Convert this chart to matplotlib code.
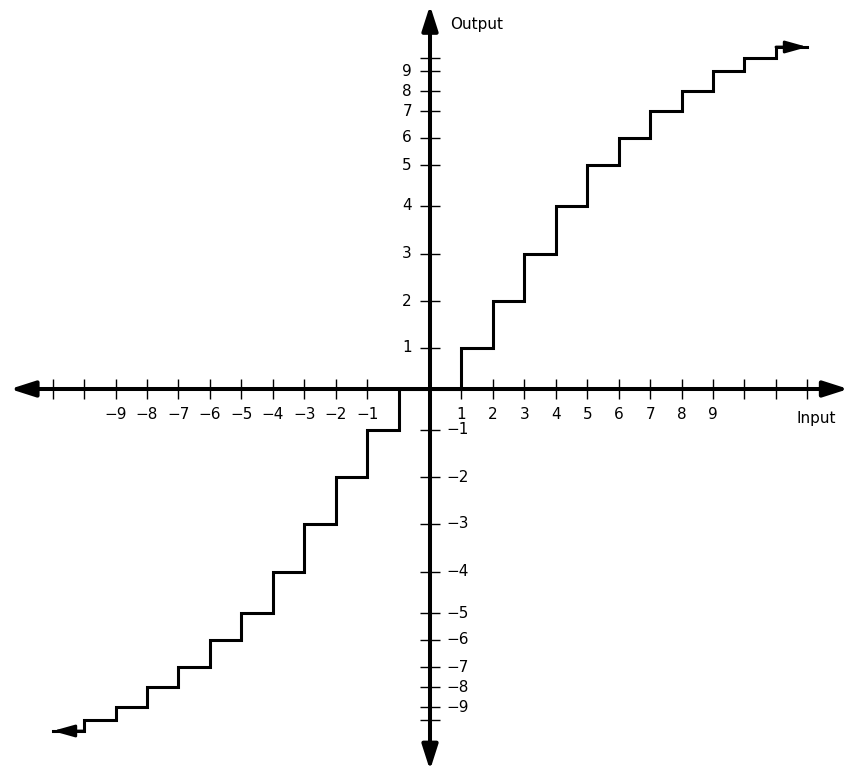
import numpy as np
import matplotlib.pyplot as plt

# quantizer transfer curve: unit-wide input intervals and the output level on each
edges = [-12, -11, -10, -9, -8, -7, -6, -5, -4, -3, -2, -1, 0,
         1, 2, 3, 4, 5, 6, 7, 8, 9, 10, 11, 12]
out_levels = [-11, -10, -9, -8, -7, -6, -5, -4, -3, -2, -1, 0,
              0, 1, 2, 3, 4, 5, 6, 7, 8, 9, 10, 11]

# compressed output axis: distance of each level from the input axis
levels = [0, 1, 2, 3, 4, 5, 6, 7, 8, 9, 10, 11, 20]
level_pos = [0, 41, 88, 135, 183, 224, 251, 278, 298, 318, 331, 342, 432]

x_ticks = [-12, -11, -10, -9, -8, -7, -6, -5, -4, -3, -2,
           1, 2, 3, 4, 5, 6, 7, 8, 9, 10, 11, 12]
x_tick_labels = ['', '', '\u22129', '\u22128', '\u22127', '\u22126', '\u22125',
                 '\u22124', '\u22123', '\u22122', '\u22121',
                 '1', '2', '3', '4', '5', '6', '7', '8', '9', '', '', '']
y_ticks_pos = [1, 2, 3, 4, 5, 6, 7, 8, 9, 10]
y_labels_pos = ['1', '2', '3', '4', '5', '6', '7', '8', '9']


def fwd(y):
    y = np.asarray(y, dtype=float)
    return np.sign(y) * np.interp(np.abs(y), levels, level_pos)


def inv(h):
    h = np.asarray(h, dtype=float)
    return np.sign(h) * np.interp(np.abs(h), level_pos, levels)


plt.rcParams['font.family'] = ['DejaVu Sans']
fig = plt.figure(figsize=(8.52, 7.67), dpi=100)
ax = fig.add_axes([0, 0, 1, 1])
ax.set_yscale('function', functions=(fwd, inv))
ax.set_xlim(-430 / 31.45, 422 / 31.45)
ax.set_ylim(float(inv(-378)), float(inv(389)))

for s in ax.spines.values():
    s.set_color('none')
ax.spines['bottom'].set_position(('data', 0))
ax.spines['left'].set_position(('data', 0))

# axis lines with arrow heads
axis_arrow = dict(arrowstyle='-|>,head_length=1.0,head_width=0.32', lw=2.9,
                  color='black', mutation_scale=15, shrinkA=0, shrinkB=0)
ax.annotate('', xy=(13.3, 0), xytext=(0, 0), arrowprops=axis_arrow)
ax.annotate('', xy=(-13.35, 0), xytext=(0, 0), arrowprops=axis_arrow)
ax.annotate('', xy=(0, 0.993), xytext=(0, 0.5), xycoords=('data', 'axes fraction'),
            textcoords=('data', 'axes fraction'), arrowprops=axis_arrow)
ax.annotate('', xy=(0, -0.004), xytext=(0, 0.5), xycoords=('data', 'axes fraction'),
            textcoords=('data', 'axes fraction'), arrowprops=axis_arrow)

# ticks
ax.set_xticks(x_ticks)
ax.set_xticklabels(x_tick_labels)
ax.set_yticks([-t for t in y_ticks_pos] + y_ticks_pos)
ax.tick_params(axis='both', direction='inout', length=15, width=1.0,
               color='black', labelsize=11)
ax.tick_params(axis='x', pad=5.5)
ax.tick_params(axis='y', labelleft=False)
ax.minorticks_off()

for i, lab in enumerate(y_labels_pos):
    k = y_ticks_pos[i]
    ax.annotate(lab, xy=(0, k), xytext=(-13, 0), textcoords='offset points',
                ha='right', va='center', fontsize=11)
    ax.annotate('\u2212' + lab, xy=(0, -k), xytext=(12, 0), textcoords='offset points',
                ha='left', va='center', fontsize=11)

# staircase
xs = np.repeat(edges, 2)[1:-1]
ys = np.repeat(out_levels, 2)
ax.plot(xs, ys, color='black', lw=2.2, solid_joinstyle='miter')
stair_arrow = dict(arrowstyle='-|>,head_length=1.0,head_width=0.28', lw=2.0,
                   color='black', mutation_scale=13, shrinkA=0, shrinkB=0)
ax.annotate('', xy=(edges[-1], out_levels[-1]), xytext=(edges[-2], out_levels[-1]),
            arrowprops=stair_arrow)
ax.annotate('', xy=(edges[0], out_levels[0]), xytext=(edges[1], out_levels[0]),
            arrowprops=stair_arrow)

ax.text(450 / 852, 1 - 25 / 767, 'Output', transform=ax.transAxes,
        ha='left', va='center', fontsize=11)
ax.text(797 / 852, 1 - 418 / 767, 'Input', transform=ax.transAxes,
        ha='left', va='center', fontsize=11)

fig.savefig('out.png', dpi=100)
